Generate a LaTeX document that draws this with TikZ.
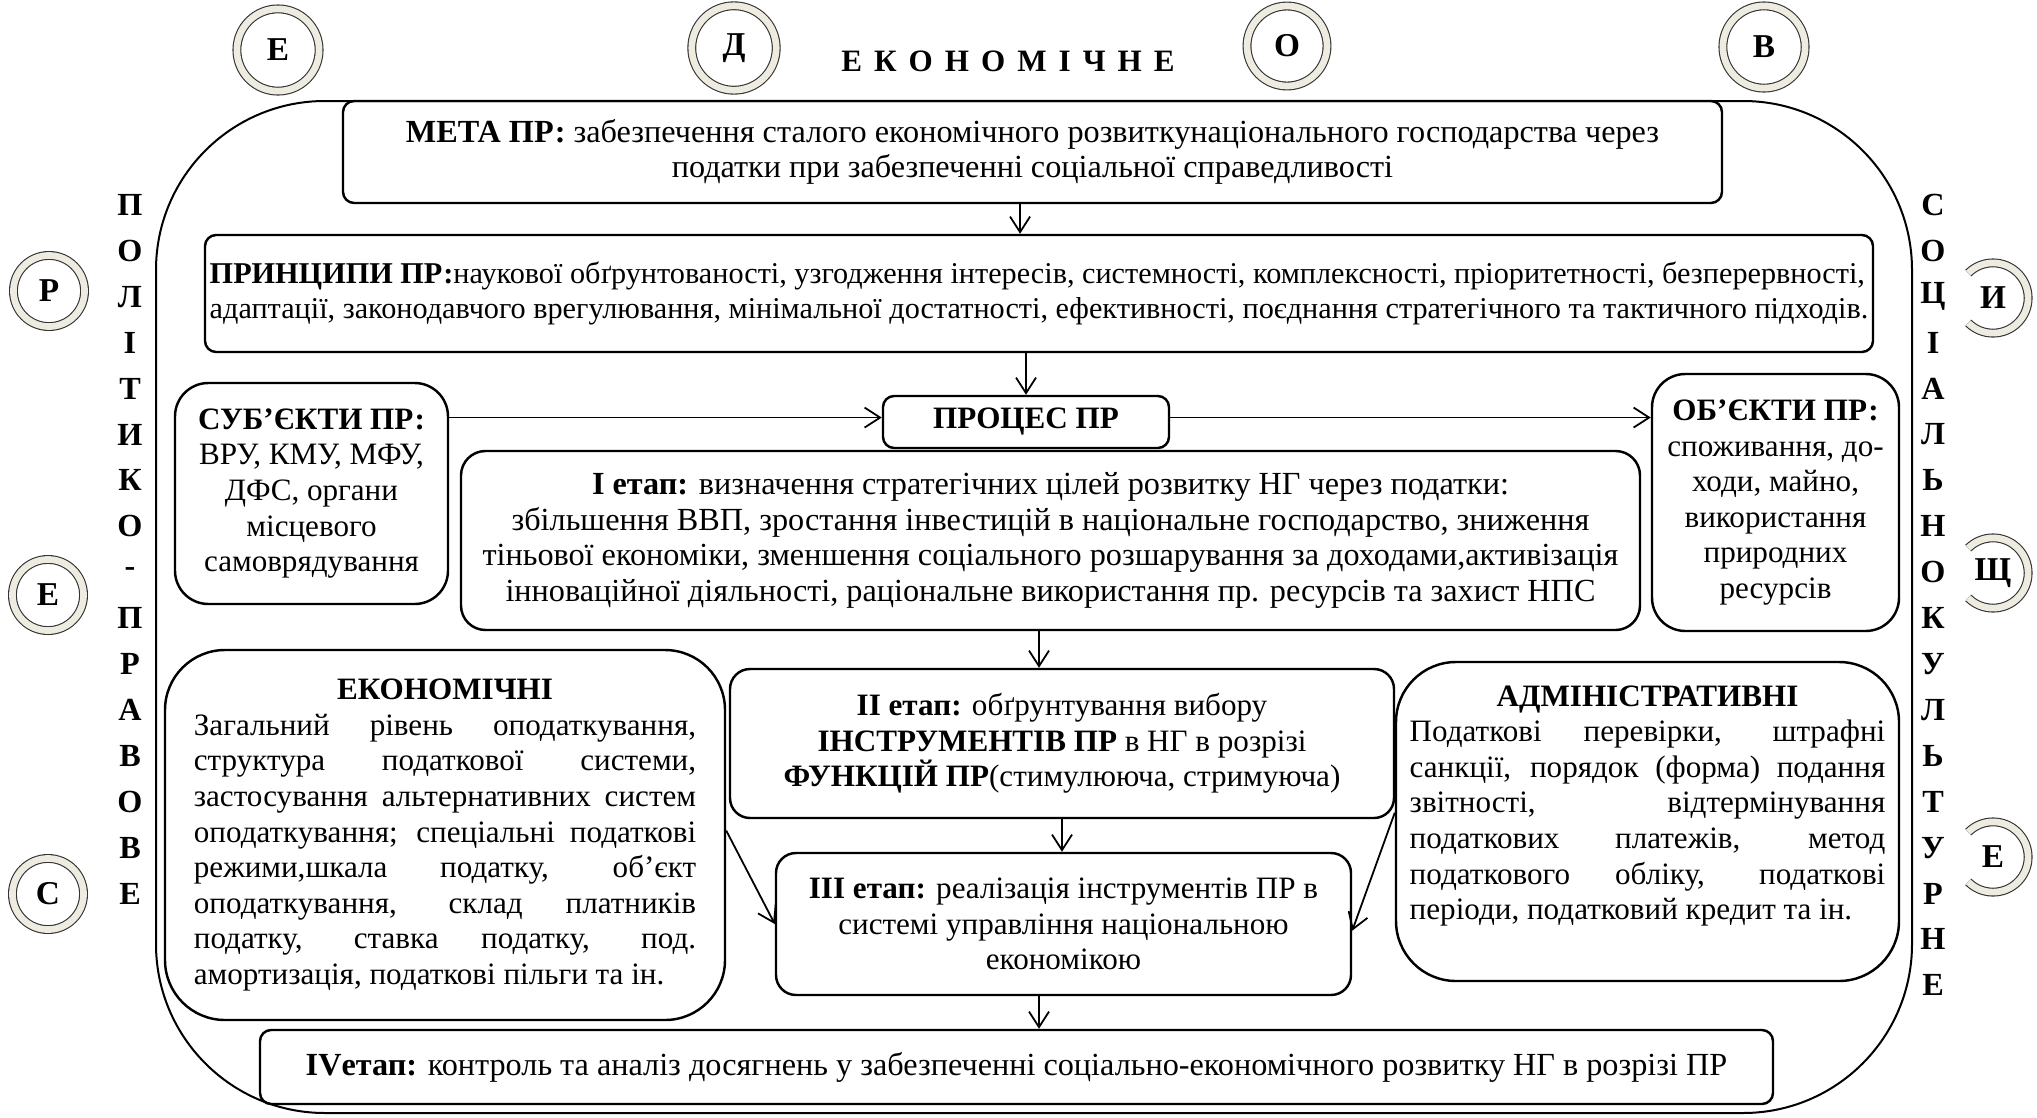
\documentclass[tikz,border=0pt]{standalone}
\usepackage{fontspec}
\setmainfont{Liberation Serif}
\usetikzlibrary{arrows.meta,calc}
\definecolor{ringc}{RGB}{238,236,225}
\newcommand{\ejl}[1]{\makebox[226pt][s]{#1}}
\newcommand{\ajl}[1]{\makebox[214pt][s]{#1}}
\newcommand{\gs}{\hspace{5.4pt}}
\begin{document}
\begin{tikzpicture}[x=0.45pt,y=-0.45pt,
  font=\fontsize{14}{16}\selectfont,
  box/.style={draw, line width=1.1pt, rounded corners=#1, inner sep=0pt, align=center},
  box/.default=5pt,
  sz/.style 2 args={minimum width=#1*0.45pt, minimum height=#2*0.45pt},
  wide/.style={font=\fontsize{14.5}{16}\selectfont},
  arr/.style={-{Straight Barb[length=7pt,width=9pt]}, line width=0.8pt},
  vlet/.style={font=\bfseries\fontsize{14.5}{16}\selectfont, inner sep=0pt},
  ringn/.style={circle, draw=black!80, line width=0.5pt, double=ringc, double distance=3pt,
    inner sep=0pt, font=\bfseries\fontsize{15}{16}\selectfont},
  ringarc/.style={draw=black!80, line width=0.5pt, double=ringc, double distance=3pt}
]
\useasboundingbox (0,0) rectangle (2037,1117);

% outer frame
\node[draw, line width=0.9pt, rounded corners=76pt, sz={1756}{1012}] (frame) at (1034,607) {};

% title
\node[font=\bfseries\fontsize{14}{16}\selectfont] (title) at (1008,61)
  {Е\gs К\gs О\gs Н\gs О\gs М\gs І\gs Ч\gs Н\gs Е};

% boxes
\node[box, sz={1379}{102}, wide] (meta) at (1032.5,152)
  {\textbf{МЕТА ПР:} забезпечення сталого економічного розвиткунаціонального господарства через\\
   податки при забезпеченні соціальної справедливості};

\node[box, sz={1668}{117}, align=left, font=\fontsize{13.6}{16}\selectfont] (princ) at (1039,293.5)
  {\textbf{ПРИНЦИПИ ПР:}наукової обґрунтованості, узгодження інтересів, системності, комплексності, пріоритетності, безперервності,\\
   адаптації, законодавчого врегулювання, мінімальної достатності, ефективності, поєднання стратегічного та тактичного підходів.};

\node[box, sz={286}{52}] (proc) at (1026,422) {\textbf{ПРОЦЕС ПР}};

\node[box=15pt, sz={273}{221}] (subj) at (311.5,493.5)
  {\textbf{СУБ’ЄКТИ ПР:}\\ВРУ, КМУ, МФУ,\\ДФС, органи\\місцевого\\самоврядування};

\node[box=15pt, sz={247}{257}] (obj) at (1775.5,502.5)
  {\textbf{ОБ’ЄКТИ ПР:}\\споживання, до-\\ходи, майно,\\використання\\природних\\ресурсів};

\node[box=11pt, sz={1179}{179}, wide] (st1) at (1050.5,540.5)
  {\textbf{І етап:} визначення стратегічних цілей розвитку НГ через податки:\\
   збільшення ВВП, зростання інвестицій в національне господарство, зниження\\
   тіньової економіки, зменшення соціального розшарування за доходами,активізація\\
   інноваційної діяльності, раціональне використання пр. ресурсів та захист НПС};

\node[box=27pt, sz={560}{370}, align=left] (econ) at (445,835)
  {\makebox[226pt][c]{\textbf{ЕКОНОМІЧНІ}}\\
   \ejl{Загальний рівень оподаткування,}\\
   \ejl{структура податкової системи,}\\
   \ejl{застосування альтернативних систем}\\
   \ejl{оподаткування; спеціальні податкові}\\
   \ejl{режими,шкала податку, об’єкт}\\
   \ejl{оподаткування, склад платників}\\
   \ejl{податку, ставка податку, под.}\\
   амортизація, податкові пільги та ін.};

\node[box=9pt, sz={664}{149}] (st2) at (1062,743.5)
  {\textbf{ІІ етап:} обґрунтування вибору\\
   \textbf{ІНСТРУМЕНТІВ ПР} в НГ в розрізі\\
   \textbf{ФУНКЦІЙ ПР}(стимулююча, стримуюча)};

\node[box=9pt, sz={575}{142}] (st3) at (1063.5,924)
  {\textbf{ІІІ етап:} реалізація інструментів ПР в\\
   системі управління національною\\
   економікою};

\node[box=27pt, sz={503}{319}] (admin) at (1647.5,821.5) {};
\node[align=left, inner sep=0pt] (admintxt) at ([yshift=7pt]admin.center)
  {\makebox[214pt][c]{\textbf{АДМІНІСТРАТИВНІ}}\\
   \ajl{Податкові перевірки, штрафні}\\
   \ajl{санкції, порядок (форма) подання}\\
   \ajl{звітності, відтермінування}\\
   \ajl{податкових платежів, метод}\\
   \ajl{податкового обліку, податкові}\\
   періоди, податковий кредит та ін.};

\node[box, sz={1513}{74}, wide] (st4) at (1016.5,1067)
  {\textbf{IVетап:} контроль та аналіз досягнень у забезпеченні соціально-економічного розвитку НГ в розрізі ПР};

% connectors
\coordinate (ax) at (1039,0);
\draw[arr] ([xshift=-5.6pt]meta.south) -- ([xshift=-5.6pt]meta.south |- princ.north);
\draw[arr] (princ.south -| proc.north) -- (proc.north);
\draw[arr] ([yshift=2pt]subj.east |- proc.west) -- ([yshift=2pt]proc.west);
\draw[arr] ([yshift=2pt]proc.east) -- ([yshift=2pt]obj.west |- proc.east);
\draw[arr] (st1.south -| ax) -- (st2.north -| ax);
\draw[arr] (st2.south) -- (st2.south |- st3.north);
\draw[arr] (st3.south -| ax) -- (st4.north -| ax);
\draw[arr] ([yshift=2pt]econ.east) -- (st3.west);
\draw[arr] ([yshift=4pt]admin.west) -- ([yshift=-3pt]st3.east);

% vertical words
\foreach \l [count=\i from 0] in {П,О,Л,І,Т,И,К,О,-,П,Р,А,В,О,В,Е}
  \node[vlet] (pl\i) at (130,205+45.9*\i) {\l};
\foreach \l [count=\i from 0] in {С,О,Ц,І,А,Л,Ь,Н,О,К,У,Л,Ь,Т,У,Р,Н,Е}
  \node[vlet] (sk\i) at (1933,205+45.9*\i) {\l};

% circles
\node[ringn, minimum size=37pt] (cE1) at (278,50) {Е};
\node[ringn, minimum size=38pt] (cD) at (734,48) {Д};
\node[ringn, minimum size=36pt] (cO) at (1287,46) {О};
\node[ringn, minimum size=37pt] (cV) at (1764,47) {В};
\node[ringn, minimum size=32pt] (cR) at (49,291) {Р};
\node[ringn, minimum size=32pt] (cE2) at (48,595) {Е};
\node[ringn, minimum size=32pt] (cS) at (48,894) {С};
\node[vlet, font=\bfseries\fontsize{15}{16}\selectfont] (cY) at (1993,298) {И};
\node[vlet, font=\bfseries\fontsize{15}{16}\selectfont] (cSh) at (1993,573) {Щ};
\node[vlet, font=\bfseries\fontsize{15}{16}\selectfont] (cE3) at (1993,857) {Е};
\foreach \c in {cY,cSh,cE3}
  \draw[ringarc] ($(\c.center)+(135:15.8pt)$) arc[start angle=135, end angle=-135, radius=15.8pt];
\end{tikzpicture}
\end{document}
